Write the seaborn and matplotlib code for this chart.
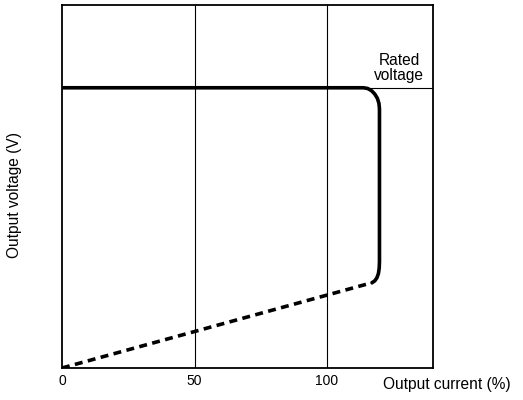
import matplotlib
matplotlib.use("Agg")
import matplotlib.pyplot as plt
import seaborn as sns
import pandas as pd

# Data
solid_x = [0, 108, 113.8, 115.35, 116.8, 118.0, 119.0, 119.6, 119.8,
           119.8, 119.7, 119.4, 118.8, 118.0, 117.0]
solid_y = [77.2, 77.2, 77.2, 77.0, 76.4, 75.5, 74.3, 72.9, 71.4,
           29.2, 27.5, 26.0, 24.8, 24.0, 23.5]
dash_x = [0, 117.0]
dash_y = [0, 23.5]
rated_voltage = 77.2
x_ticks = [0, 50, 100]
x_ticklabels = ["0", "50", "100"]

sns.set_theme(style="white")
plt.rcParams['font.family'] = ['Liberation Sans', 'DejaVu Sans']

fig = plt.figure(figsize=(5.23, 4.0), dpi=100)
ax = fig.add_axes([62/523, 32/400, (433-62)/523, (368-5)/400])

df_solid = pd.DataFrame({"x": solid_x, "y": solid_y})
df_dash = pd.DataFrame({"x": dash_x, "y": dash_y})

# grid lines at 50 and 100
for xv in x_ticks[1:]:
    ax.axvline(xv, color="black", lw=0.8, zorder=1)
ax.axhline(rated_voltage, color="black", lw=0.8, zorder=1)

sns.lineplot(data=df_solid, x="x", y="y", sort=False, estimator=None, color="black",
             lw=2.6, ax=ax, solid_capstyle="round", solid_joinstyle="round", zorder=3)
sns.lineplot(data=df_dash, x="x", y="y", sort=False, estimator=None, color="black",
             lw=2.6, ax=ax, zorder=3)
ax.lines[-1].set_dashes([2.2, 1.5])

ax.set_xlim(0, 140)
ax.set_ylim(0, 100)
ax.set_xticks(x_ticks)
ax.set_xticklabels(x_ticklabels)
ax.set_yticks([])
ax.tick_params(axis="x", length=0, pad=4, labelsize=10, colors="black")
for s in ax.spines.values():
    s.set_color("black")
    s.set_linewidth(1.3)

ax.set_xlabel("")
ax.set_ylabel("")
fig.text(383/523, 1 - 384/400, "Output current (%)", ha="left", va="center",
         fontsize=11.2, color="black")
fig.text(15/523, 1 - 195/400, "Output voltage (V)", ha="center", va="center",
         rotation=90, fontsize=11.2, color="black")
fig.text(399/523, 1 - 68/400, "Rated\nvoltage", ha="center", va="center",
         fontsize=11.2, color="black", linespacing=1.0)

fig.savefig("out.png", dpi=100)
